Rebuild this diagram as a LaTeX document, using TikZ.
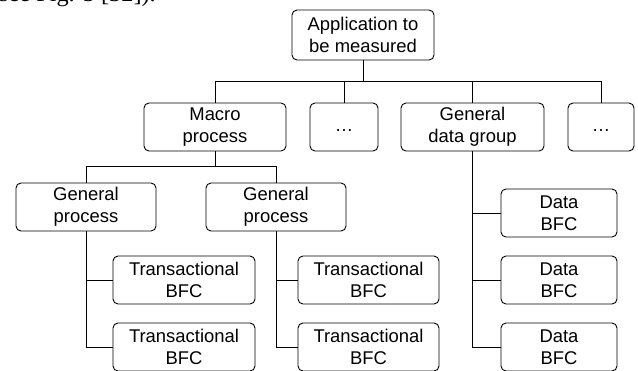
\documentclass[tikz,border=0pt]{standalone}
\usepackage{fontspec}
\setmainfont{Liberation Sans}
\newfontfamily\serifcut{Liberation Serif}
\begin{document}
\begin{tikzpicture}[x=1bp,y=-1bp,
  box/.style={draw, line width=0.9bp, rounded corners=5bp, align=center, inner sep=0pt,
    minimum height=48bp, font=\fontsize{18.5}{22}\selectfont},
  wire/.style={line width=0.9bp}]
\clip (0,0) rectangle (638,370);
\useasboundingbox (0,0) rectangle (638,370);
\node[anchor=base east, inner sep=0pt, font=\fontsize{24.4}{29}\selectfont\serifcut] (cut) at (156,1) {see Fig. 5 [32]).};
\node[box, minimum width=142bp, minimum height=50bp] (app) at (363,35) {Application to\\be measured};
\node[box, minimum width=142bp] (macro) at (215,127) {Macro\\process};
\node[box, minimum width=68bp] (dots1) at (344,127) {\strut…};
\node[box, minimum width=143bp] (gdg) at (472.5,127) {General\\data group};
\node[box, minimum width=66bp] (dots2) at (601,127) {\strut…};
\node[box, minimum width=140bp] (gp1) at (86,207) {General\\process};
\node[box, minimum width=140bp] (gp2) at (276,207) {General\\process};
\node[box, minimum width=142bp] (t11) at (184,280) {Transactional\\BFC};
\node[box, minimum width=142bp] (t12) at (184,347) {Transactional\\BFC};
\node[box, minimum width=141bp] (t21) at (368.5,280) {Transactional\\BFC};
\node[box, minimum width=141bp] (t22) at (368.5,347) {Transactional\\BFC};
\node[box, minimum width=116bp] (d1) at (559,213) {Data\\BFC};
\node[box, minimum width=116bp] (d2) at (559,280) {Data\\BFC};
\node[box, minimum width=116bp] (d3) at (559,347) {Data\\BFC};
\foreach \c in {macro,dots1,gdg,dots2}
  \draw[wire] (app.south) -- ++(0,21) -| (\c.north);
\foreach \c in {gp1,gp2}
  \draw[wire] (macro.south) -- ++(0,15) -| (\c.north);
\foreach \c in {t11,t12}
  \draw[wire] (gp1.south) |- (\c.west);
\foreach \c in {t21,t22}
  \draw[wire] (gp2.south) |- (\c.west);
\foreach \c in {d1,d2,d3}
  \draw[wire] (gdg.south) |- (\c.west);
\end{tikzpicture}
\end{document}
